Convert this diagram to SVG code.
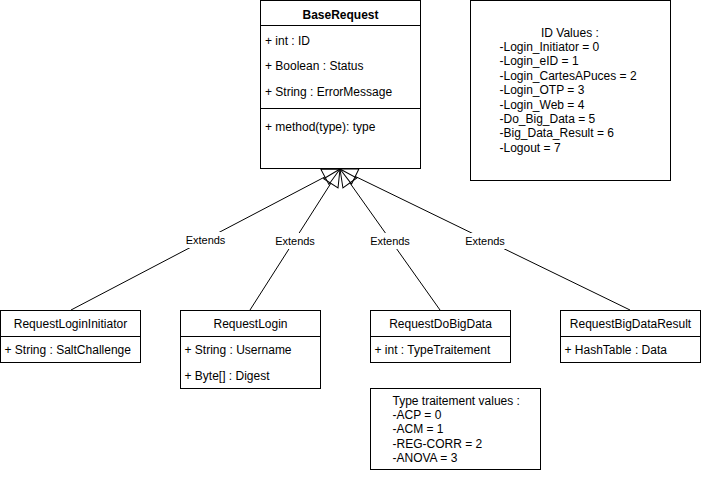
<svg xmlns="http://www.w3.org/2000/svg" width="701" height="479" viewBox="0 0 701 479">
  <style>
    .box { fill: #ffffff; stroke: #000000; stroke-width: 1; }
    .sep { stroke: #000000; stroke-width: 1; fill: none; }
    .t { font-family: "Liberation Sans", Arial, Helvetica, sans-serif; font-size: 12px; fill: #000000; }
    .c { text-anchor: middle; }
    .b { font-weight: bold; }
    .edge { stroke: #000000; stroke-width: 1; fill: none; marker-end: url(#extends); }
    .lblbg { fill: #ffffff; stroke: none; }
    .lbl { font-family: "Liberation Sans", Arial, Helvetica, sans-serif; font-size: 11px; fill: #000000; text-anchor: middle; }
  </style>
  <defs>
    <!-- hollow generalization triangle, drawn forward from the end of the line -->
    <marker id="extends" markerUnits="userSpaceOnUse" viewBox="-1 -10 20 20" refX="0" refY="0" markerWidth="20" markerHeight="20" orient="auto" overflow="visible">
      <path d="M0,-8.5 L17,0 L0,8.5 Z" fill="none" stroke="#000000" stroke-width="1"/>
    </marker>
  </defs>

  <rect width="701" height="479" fill="#ffffff"/>

  <!-- inheritance connectors -->
  <g id="connectors">
    <path class="edge" d="M71,310 L324.94,176.89"/>
    <path class="edge" d="M250,310 L330.85,183.33"/>
    <path class="edge" d="M440,310 L349.83,182.87"/>
    <path class="edge" d="M630,310 L355.29,176.43"/>
    <rect class="lblbg" x="185" y="232" width="41" height="16"/>
    <text class="lbl" x="205.5" y="244">Extends</text>
    <rect class="lblbg" x="275" y="233" width="41" height="16"/>
    <text class="lbl" x="295" y="245">Extends</text>
    <rect class="lblbg" x="370" y="233" width="41" height="16"/>
    <text class="lbl" x="390" y="245">Extends</text>
    <rect class="lblbg" x="465" y="233" width="41" height="16"/>
    <text class="lbl" x="485" y="245">Extends</text>
  </g>

  <!-- base class -->
  <g id="BaseRequest">
    <rect class="box" x="260.5" y="0.5" width="160" height="168"/>
    <line class="sep" x1="260.5" y1="25.5" x2="420.5" y2="25.5"/>
    <line class="sep" x1="260.5" y1="108.5" x2="420.5" y2="108.5"/>
    <text class="t c b" x="340.5" y="18.5">BaseRequest</text>
    <text class="t" x="265" y="44.5">+ int : ID</text>
    <text class="t" x="265" y="69.5">+ Boolean : Status</text>
    <text class="t" x="265" y="95.5">+ String : ErrorMessage</text>
    <text class="t" x="265" y="131">+ method(type): type</text>
  </g>

  <!-- note: ID values -->
  <g id="IDValues">
    <rect class="box" x="470.5" y="0.5" width="200" height="180"/>
    <text class="t" x="541" y="36.5">ID Values :</text>
    <text class="t" x="499.5" y="50.9">-Login_Initiator = 0</text>
    <text class="t" x="499.5" y="65.3">-Login_eID = 1</text>
    <text class="t" x="499.5" y="79.7">-Login_CartesAPuces = 2</text>
    <text class="t" x="499.5" y="94.1">-Login_OTP = 3</text>
    <text class="t" x="499.5" y="108.5">-Login_Web = 4</text>
    <text class="t" x="499.5" y="122.9">-Do_Big_Data = 5</text>
    <text class="t" x="499.5" y="137.3">-Big_Data_Result = 6</text>
    <text class="t" x="499.5" y="151.7">-Logout = 7</text>
  </g>

  <!-- subclasses -->
  <g id="RequestLoginInitiator">
    <rect class="box" x="0.5" y="310.5" width="140" height="52"/>
    <line class="sep" x1="0.5" y1="336.5" x2="140.5" y2="336.5"/>
    <text class="t c" x="70.5" y="328">RequestLoginInitiator</text>
    <text class="t" x="4.5" y="353.5">+ String : SaltChallenge</text>
  </g>

  <g id="RequestLogin">
    <rect class="box" x="180.5" y="310.5" width="140" height="78"/>
    <line class="sep" x1="180.5" y1="336.5" x2="320.5" y2="336.5"/>
    <text class="t c" x="250.5" y="328">RequestLogin</text>
    <text class="t" x="184.5" y="353.5">+ String : Username</text>
    <text class="t" x="184.5" y="380">+ Byte[] : Digest</text>
  </g>

  <g id="RequestDoBigData">
    <rect class="box" x="370.5" y="310.5" width="140" height="52"/>
    <line class="sep" x1="370.5" y1="336.5" x2="510.5" y2="336.5"/>
    <text class="t c" x="440.5" y="328">RequestDoBigData</text>
    <text class="t" x="374.5" y="353.5">+ int : TypeTraitement</text>
  </g>

  <g id="RequestBigDataResult">
    <rect class="box" x="560.5" y="310.5" width="140" height="52"/>
    <line class="sep" x1="560.5" y1="336.5" x2="700.5" y2="336.5"/>
    <text class="t c" x="630.5" y="328">RequestBigDataResult</text>
    <text class="t" x="564.5" y="353.5">+ HashTable : Data</text>
  </g>

  <!-- note: processing type values -->
  <g id="TypeTraitementValues">
    <rect class="box" x="370.5" y="388.5" width="170" height="81"/>
    <text class="t" x="392.5" y="405">Type traitement values :</text>
    <text class="t" x="392.5" y="419.2">-ACP = 0</text>
    <text class="t" x="392.5" y="433.4">-ACM = 1</text>
    <text class="t" x="392.5" y="447.6">-REG-CORR = 2</text>
    <text class="t" x="392.5" y="461.8">-ANOVA = 3</text>
  </g>
</svg>
